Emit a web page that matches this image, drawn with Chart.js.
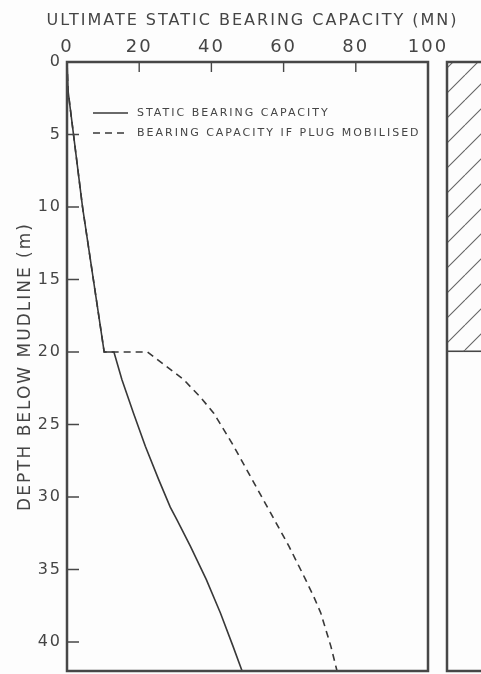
<!DOCTYPE html>
<html>
<head>
<meta charset="utf-8">
<script src="https://cdn.jsdelivr.net/npm/chart.js@4.4.1/dist/chart.umd.min.js"></script>
<style>
  html, body { margin: 0; padding: 0; background: #fdfdfd; overflow: hidden; }
  #wrap { position: relative; width: 481px; height: 674px; overflow: hidden; }
  #main { position: absolute; left: 0; top: 0; }
  #column { position: absolute; left: 440px; top: 0; }
</style>
</head>
<body>
<div id="wrap">
  <canvas id="main" width="481" height="674"></canvas>
  <canvas id="column" width="80" height="674"></canvas>
</div>
<script>
// values (depth in m, capacity in MN)
const staticDepth = [0, 2, 10, 20, 20, 21.9, 24.2, 26.5, 28.8, 30.7, 31.6, 33.4, 35.7, 38, 40.3, 42];
const staticCapacity = [0, 0.3, 4.3, 10.3, 13, 15.2, 18.4, 21.7, 25.4, 28.6, 30.5, 34.2, 38.6, 42.5, 46, 48.5];
const plugDepth = [0, 2, 10, 20, 20, 21.9, 23.1, 24.2, 26.5, 28.8, 31.1, 33.4, 35.7, 36.9, 38, 40.3, 42];
const plugCapacity = [0, 0.3, 4.3, 10.3, 22.3, 32.3, 36.9, 40.6, 46.2, 51.3, 56.4, 61.5, 66.1, 68.4, 70.3, 73.1, 74.8];
const capacityTicks = [0, 20, 40, 60, 80, 100];
const depthTicks = [0, 5, 10, 15, 20, 25, 30, 35, 40];
const plugZone = [0, 20];
const seriesLabels = ["STATIC BEARING CAPACITY", "BEARING CAPACITY IF PLUG MOBILISED"];
const xTitle = "ULTIMATE STATIC BEARING CAPACITY (MN)";
const yTitle = "DEPTH BELOW MUDLINE (m)";

const textColor = "#454545";
const lineColor = "#383838";
const frameColor = "#474747";
const fontFamily = "'DejaVu Sans', sans-serif";

// wide lettering like the stencil font of the original
const spacingPlugin = {
    id: "spacing",
    beforeUpdate(chart) { chart.ctx.letterSpacing = "2px"; },
    beforeDraw(chart) { chart.ctx.letterSpacing = "2px"; }
};

// box round the plot and the short ticks pointing inwards
const framePlugin = {
    id: "frame",
    afterDatasetsDraw(chart, args, opts) {
        const ctx = chart.ctx;
        const a = chart.chartArea;
        ctx.save();
        ctx.strokeStyle = frameColor;
        ctx.lineWidth = 1.4;
        if (opts.ticks) {
            const xs = chart.scales.x, ys = chart.scales.y;
            ctx.beginPath();
            capacityTicks.slice(1, -1).forEach(v => {
                const px = xs.getPixelForValue(v);
                ctx.moveTo(px, a.top);
                ctx.lineTo(px, a.top + 10);
            });
            depthTicks.slice(1).forEach(v => {
                const py = ys.getPixelForValue(v);
                ctx.moveTo(a.left, py);
                ctx.lineTo(a.left + 12, py);
            });
            ctx.stroke();
        }
        ctx.lineWidth = 2.5;
        ctx.strokeRect(a.left, a.top, a.right - a.left, a.bottom - a.top);
        ctx.restore();
    }
};

// legend inside the plot, plus the top title which runs wider than the plot
const legendPlugin = {
    id: "insideLegend",
    afterDraw(chart) {
        const ctx = chart.ctx;
        const x0 = chart.chartArea.left + 26;
        const y0 = chart.chartArea.top + 51;
        chart.data.datasets.forEach((ds, i) => {
            const y = y0 + i * 20;
            ctx.save();
            ctx.strokeStyle = ds.borderColor;
            ctx.lineWidth = 1.3;
            ctx.setLineDash(ds.borderDash || []);
            ctx.beginPath();
            ctx.moveTo(x0, y);
            ctx.lineTo(x0 + 35, y);
            ctx.stroke();
            ctx.setLineDash([]);
            ctx.fillStyle = textColor;
            ctx.font = "11px " + fontFamily;
            ctx.textBaseline = "middle";
            ctx.fillText(ds.label, x0 + 44, y + 0.5);
            ctx.restore();
        });

        ctx.save();
        ctx.fillStyle = textColor;
        ctx.font = "16px " + fontFamily;
        ctx.textAlign = "center";
        ctx.textBaseline = "middle";
        ctx.fillText(xTitle, (chart.chartArea.left + chart.chartArea.right) / 2 + 5, 21);
        ctx.restore();
    }
};

function toPoints(xs, ys) {
    return xs.map((v, i) => ({ x: v, y: ys[i] }));
}

new Chart(document.getElementById("main"), {
    type: "scatter",
    data: {
        datasets: [
            {
                label: seriesLabels[0],
                data: toPoints(staticCapacity, staticDepth),
                showLine: true,
                borderColor: lineColor,
                borderWidth: 1.6,
                pointRadius: 0,
                tension: 0
            },
            {
                label: seriesLabels[1],
                data: toPoints(plugCapacity, plugDepth),
                showLine: true,
                borderColor: lineColor,
                borderWidth: 1.6,
                borderDash: [7, 5],
                pointRadius: 0,
                tension: 0
            }
        ]
    },
    options: {
        responsive: false,
        devicePixelRatio: 1,
        animation: false,
        events: [],
        layout: { padding: { left: 0, top: 0, right: 53, bottom: 3 } },
        plugins: {
            legend: { display: false },
            tooltip: { enabled: false },
            frame: { ticks: true }
        },
        scales: {
            x: {
                type: "linear",
                position: "top",
                min: 0,
                max: 100,
                afterBuildTicks: s => { s.ticks = capacityTicks.map(v => ({ value: v })); },
                afterFit: s => { s.height = 62; },
                grid: { display: false, drawTicks: false },
                border: { display: false },
                ticks: { color: textColor, font: { family: fontFamily, size: 18 }, padding: 4, maxRotation: 0, autoSkip: false }
            },
            y: {
                type: "linear",
                reverse: true,
                min: 0,
                max: 42,
                afterBuildTicks: s => { s.ticks = depthTicks.map(v => ({ value: v })); },
                afterFit: s => { s.width = 67; s.paddingTop = 0; s.paddingBottom = 0; },
                grid: { display: false, drawTicks: false },
                border: { display: false },
                ticks: { color: textColor, font: { family: fontFamily, size: 16 }, padding: 5, autoSkip: false },
                title: {
                    display: true,
                    text: yTitle,
                    color: textColor,
                    font: { family: fontFamily, size: 17 },
                    padding: { top: 15, bottom: 0 }
                }
            }
        }
    },
    plugins: [spacingPlugin, framePlugin, legendPlugin]
});

// hatch for the plugged zone in the side column
function makeHatch() {
    const tile = document.createElement("canvas");
    tile.width = 25;
    tile.height = 25;
    const c = tile.getContext("2d");
    c.strokeStyle = "#666";
    c.lineWidth = 1.1;
    c.beginPath();
    [-25, 0, 25].forEach(off => {
        c.moveTo(off, 25);
        c.lineTo(off + 25, 0);
    });
    c.stroke();
    return c.createPattern(tile, "repeat");
}

new Chart(document.getElementById("column"), {
    type: "bar",
    data: {
        labels: ["plug"],
        datasets: [{
            data: [plugZone],
            backgroundColor: makeHatch(),
            borderColor: frameColor,
            borderWidth: { top: 0, left: 0, right: 0, bottom: 1.2 },
            borderSkipped: false,
            barPercentage: 1,
            categoryPercentage: 1
        }]
    },
    options: {
        responsive: false,
        devicePixelRatio: 1,
        animation: false,
        events: [],
        layout: { padding: { left: 7, top: 62, right: 0, bottom: 3 } },
        plugins: {
            legend: { display: false },
            tooltip: { enabled: false },
            frame: { ticks: false }
        },
        scales: {
            x: { display: false },
            y: { display: false, min: 0, max: 42, reverse: true }
        }
    },
    plugins: [framePlugin]
});
</script>
</body>
</html>
